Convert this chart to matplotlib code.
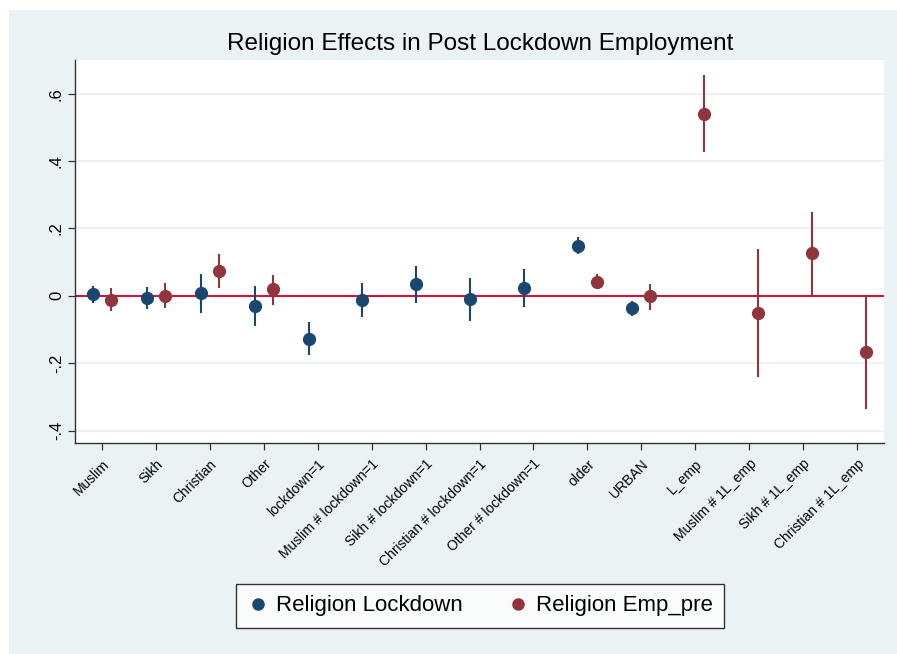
import numpy as np
import matplotlib.pyplot as plt
from matplotlib.lines import Line2D
from matplotlib.patches import Rectangle

plt.rcParams["font.family"] = ["Liberation Sans", "DejaVu Sans"]

# coefficient labels along the x axis
labels = ["Muslim", "Sikh", "Christian", "Other", "lockdown=1",
          "Muslim # lockdown=1", "Sikh # lockdown=1", "Christian # lockdown=1",
          "Other # lockdown=1", "older", "URBAN", "L_emp",
          "Muslim # 1L_emp", "Sikh # 1L_emp", "Christian # 1L_emp"]

nan = np.nan

# model 1: Religion Lockdown
lock_b = [0.005, -0.006, 0.007, -0.030, -0.127, -0.012, 0.035, -0.010, 0.024,
          0.149, -0.037, nan, nan, nan, nan]
lock_lo = [-0.020, -0.040, -0.052, -0.090, -0.177, -0.062, -0.020, -0.075, -0.033,
           0.123, -0.060, nan, nan, nan, nan]
lock_hi = [0.030, 0.027, 0.066, 0.029, -0.079, 0.038, 0.088, 0.053, 0.080,
           0.176, -0.014, nan, nan, nan, nan]

# model 2: Religion Emp_pre
emp_b = [-0.011, 0.000, 0.074, 0.019, nan, nan, nan, nan, nan,
         0.042, -0.002, 0.540, -0.051, 0.126, -0.166]
emp_lo = [-0.044, -0.037, 0.023, -0.026, nan, nan, nan, nan, nan,
          0.020, -0.041, 0.426, -0.242, 0.003, -0.335]
emp_hi = [0.022, 0.037, 0.124, 0.063, nan, nan, nan, nan, nan,
          0.065, 0.035, 0.654, 0.140, 0.248, 0.002]

yticks = [-0.4, -0.2, 0, 0.2, 0.4, 0.6]
ytick_labels = ["-.4", "-.2", "0", ".2", ".4", ".6"]

navy = "#1a476f"
maroon = "#90353b"
bg = "#eaf2f3"

fig = plt.figure(figsize=(8.97, 6.54), dpi=100)
fig.patch.set_facecolor("white")
fig.patches.append(Rectangle((9 / 897, 0), 1, 1 - 10 / 654, transform=fig.transFigure,
                             facecolor=bg, edgecolor="none", zorder=-10))

ax = fig.add_axes([75 / 897, 211 / 654, 809 / 897, 383 / 654])
ax.set_facecolor("white")

x = np.arange(len(labels))
off = 0.17


def draw_series(pos, b, lo, hi, color):
    b, lo, hi = np.array(b), np.array(lo), np.array(hi)
    ok = ~np.isnan(b)
    ax.vlines(pos[ok], lo[ok], hi[ok], color=color, lw=1.5, zorder=3)
    ax.plot(pos[ok], b[ok], "o", color=color, ms=8.5, mec=color, zorder=4)


ax.axhline(0, color="#c8193c", lw=1.5, zorder=2)
draw_series(x - off, lock_b, lock_lo, lock_hi, navy)
draw_series(x + off, emp_b, emp_lo, emp_hi, maroon)

ax.set_xlim(-0.5, len(labels) - 0.5)
ax.set_ylim(-0.437, 0.70)
ax.set_yticks(yticks)
ax.set_yticklabels(ytick_labels, rotation=90, va="center", fontsize=12)
ax.yaxis.grid(True, color=bg, lw=1.5)
ax.set_axisbelow(True)

ax.set_xticks(x)
ax.set_xticklabels(labels, rotation=45, ha="right", rotation_mode="anchor", fontsize=10)
ax.tick_params(axis="both", length=5, width=0.9, color="#333333", direction="out")
ax.tick_params(axis="x", pad=5)
ax.tick_params(axis="y", pad=3)

for side in ["top", "right"]:
    ax.spines[side].set_visible(False)
for side in ["left", "bottom"]:
    ax.spines[side].set_color("#333333")
    ax.spines[side].set_linewidth(1.0)

fig.text(480 / 897, 1 - 44 / 654, "Religion Effects in Post Lockdown Employment",
         ha="center", va="center", fontsize=17.5)

handles = [Line2D([], [], ls="none", marker="o", color=navy, ms=8),
           Line2D([], [], ls="none", marker="o", color=maroon, ms=8)]
leg = fig.legend(handles, ["Religion Lockdown", "Religion Emp_pre"], ncol=2,
                 loc="center", bbox_to_anchor=(480 / 897, 1 - 606 / 654),
                 fontsize=16, frameon=True, fancybox=False, handletextpad=0.3,
                 columnspacing=2.0, handlelength=1.0, borderpad=0.5)
leg.get_frame().set_edgecolor("black")
leg.get_frame().set_linewidth(1.0)
leg.get_frame().set_facecolor("white")

fig.savefig("out.png", dpi=100)
